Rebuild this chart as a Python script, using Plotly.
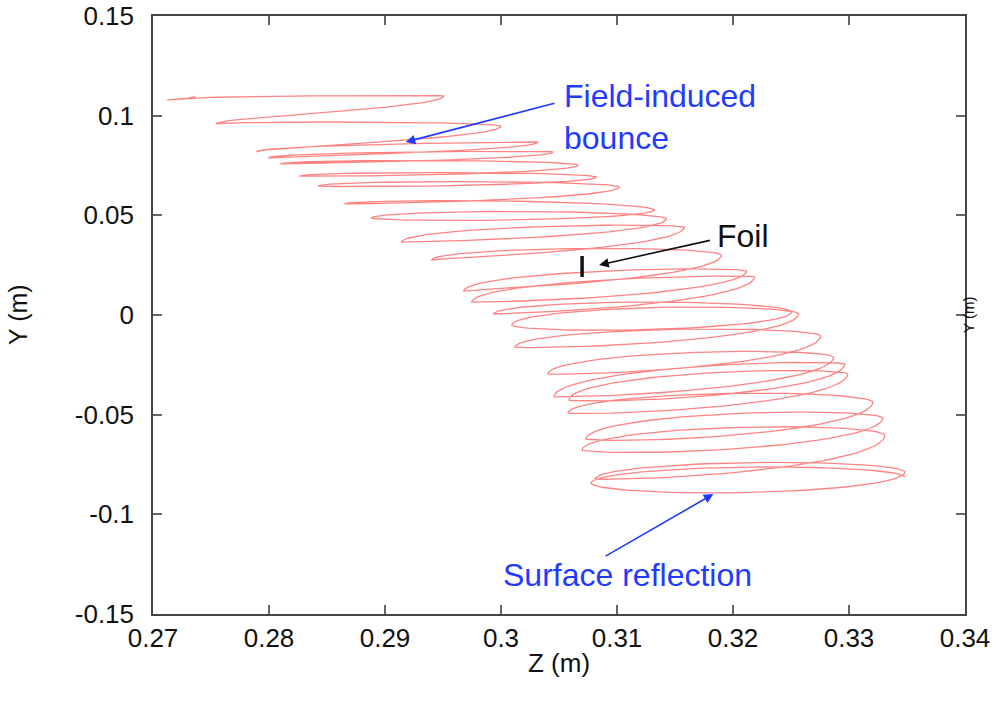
import numpy as np
import plotly.graph_objects as go

# Turning points (tips) of the projected helical trajectory (Z, Y in m)
tip_z = [0.27363, 0.27121, 0.29506, 0.27544, 0.29999, 0.27890, 0.30319, 0.27994, 0.30448,
         0.28098, 0.30664, 0.28262, 0.30820, 0.28426, 0.31019, 0.28651, 0.31321, 0.28884,
         0.31425, 0.29143, 0.31580, 0.29402, 0.31900, 0.29679, 0.32116, 0.29748, 0.32185,
         0.29938, 0.32505, 0.30094, 0.32565, 0.30120, 0.32756, 0.30405, 0.32868, 0.30457,
         0.32963, 0.30586, 0.32989, 0.30578, 0.33205, 0.30733, 0.33291, 0.30699, 0.33309,
         0.30811, 0.33482, 0.30777, 0.33482]
tip_y = [0.1099, 0.1079, 0.1099, 0.0958, 0.0948, 0.0818, 0.0868, 0.0788, 0.0818,
         0.0758, 0.0752, 0.0697, 0.0692, 0.0647, 0.0642, 0.0557, 0.0527, 0.0487,
         0.0482, 0.0366, 0.0441, 0.0276, 0.0301, 0.0120, 0.0221, 0.0065, 0.0191,
         0.0005, 0.0015, -0.0050, 0.0005, -0.0161, -0.0105, -0.0296, -0.0211, -0.0411,
         -0.0246, -0.0426, -0.0296, -0.0492, -0.0437, -0.0622, -0.0517, -0.0677, -0.0602,
         -0.0823, -0.0788, -0.0843, -0.0813]
# vertical half-height of each half-turn arc (m)
arc_h = [0.0005, 0.001, 0.001, 0.0015, 0.0015, 0.0015, 0.0015, 0.0015, 0.0015, 0.002,
         0.002, 0.002, 0.002, 0.0025, 0.0025, 0.003, 0.003, 0.0035, 0.0035, 0.004,
         0.004, 0.0045, 0.0045, 0.005, 0.005, 0.005, 0.0055, 0.0055, 0.0055, 0.006,
         0.006, 0.006, 0.0065, 0.0065, 0.0065, 0.007, 0.007, 0.007, 0.007, 0.007,
         0.0075, 0.0075, 0.0075, 0.0075, 0.0075, 0.0065, 0.0075, 0.0065]

foil_z = [0.30699, 0.30699]
foil_y = [0.0296, 0.0191]

x_ticks = [0.27, 0.28, 0.29, 0.30, 0.31, 0.32, 0.33, 0.34]
x_labels = ["0.27", "0.28", "0.29", "0.3", "0.31", "0.32", "0.33", "0.34"]
y_ticks = [-0.15, -0.1, -0.05, 0, 0.05, 0.1, 0.15]
y_labels = ["-0.15", "-0.1", "-0.05", "0", "0.05", "0.1", "0.15"]

# build the path as half-ellipse arcs between consecutive tips
zs, ys = [], []
phi = np.linspace(0, np.pi, 40)
for i in range(len(tip_z) - 1):
    z0, z1 = tip_z[i], tip_z[i + 1]
    y0, y1 = tip_y[i], tip_y[i + 1]
    sign = 1.0 if z1 > z0 else -1.0
    s = (1 - np.cos(phi)) / 2
    zz = z0 + (z1 - z0) * s
    yy = y0 + (y1 - y0) * phi / np.pi + sign * arc_h[i] * np.sin(phi)
    if i > 0:
        zz, yy = zz[1:], yy[1:]
    zs.extend(zz.tolist())
    ys.extend(yy.tolist())

fig = go.Figure()
fig.add_trace(go.Scatter(x=zs, y=ys, mode="lines",
                         line=dict(color="rgba(255,30,30,0.55)", width=1.3),
                         hoverinfo="skip", showlegend=False))
fig.add_trace(go.Scatter(x=foil_z, y=foil_y, mode="lines",
                         line=dict(color="#111111", width=3.5),
                         showlegend=False))

blue = "#1f3bff"
FONT = "Liberation Sans, Arial, sans-serif"
# arrows
fig.add_annotation(x=0.29178, y=0.0868, ax=0.30474, ay=0.1064, axref="x", ayref="y",
                   xref="x", yref="y", text="", showarrow=True, arrowhead=2,
                   arrowsize=1.2, arrowwidth=1.6, arrowcolor=blue)
fig.add_annotation(x=0.30846, y=0.0251, ax=0.31814, ay=0.0376, axref="x", ayref="y",
                   xref="x", yref="y", text="", showarrow=True, arrowhead=2,
                   arrowsize=1.2, arrowwidth=1.6, arrowcolor="#111111")
fig.add_annotation(x=0.31831, y=-0.0898, ax=0.30889, ay=-0.1214, axref="x", ayref="y",
                   xref="x", yref="y", text="", showarrow=True, arrowhead=2,
                   arrowsize=1.2, arrowwidth=1.6, arrowcolor=blue)
# texts
fig.add_annotation(x=0.30526, y=0.0993, xref="x", yref="y", xanchor="left", yanchor="middle",
                   align="left", text="Field-induced<br>bounce", showarrow=False,
                   font=dict(family=FONT, size=32, color=blue))
fig.add_annotation(x=0.31848, y=0.0396, xref="x", yref="y", xanchor="left", yanchor="middle",
                   text="Foil", showarrow=False, font=dict(family=FONT, size=32, color="#111111"))
fig.add_annotation(x=0.29999, y=-0.1304, xref="x", yref="y", xanchor="left", yanchor="middle",
                   text="Surface reflection", showarrow=False,
                   font=dict(family=FONT, size=32, color=blue))
fig.add_annotation(x=1.0, y=0.5, xref="paper", yref="paper", xanchor="center", yanchor="middle",
                   xshift=3, text="Y (m)", textangle=-90, showarrow=False,
                   font=dict(family=FONT, size=15, color="#111111"))
# axis titles
fig.add_annotation(x=0.0, y=0.5, xref="paper", yref="paper", xanchor="center", yanchor="middle",
                   xshift=-135, text="Y (m)", textangle=-90, showarrow=False,
                   font=dict(family=FONT, size=25, color="#111111"))
fig.add_annotation(x=0.5, y=0.0, xref="paper", yref="paper", xanchor="center", yanchor="middle",
                   yshift=-49, text="Z (m)", showarrow=False,
                   font=dict(family=FONT, size=26, color="#111111"))

axis_common = dict(showgrid=False, zeroline=False, showline=True, linecolor="#444444",
                   linewidth=1.5, mirror="allticks", ticks="inside", ticklen=9,
                   tickcolor="#666666", tickwidth=1.5, automargin=False,
                   tickfont=dict(family=FONT, size=26, color="#111111"))
fig.update_xaxes(range=[0.27, 0.34], tickvals=x_ticks, ticktext=x_labels,
                 ticklabelstandoff=0, **axis_common)
fig.update_yaxes(range=[-0.15, 0.15], tickvals=y_ticks, ticktext=y_labels,
                 ticklabelstandoff=12, **axis_common)
fig.update_layout(width=1000, height=707, margin=dict(l=153, r=35, t=16, b=93),
                  plot_bgcolor="white", paper_bgcolor="white",
                  font=dict(family=FONT))
fig.write_html("out.html", config={"displayModeBar": False},
               post_script="document.body.style.margin='0';document.body.style.overflow='hidden';")
